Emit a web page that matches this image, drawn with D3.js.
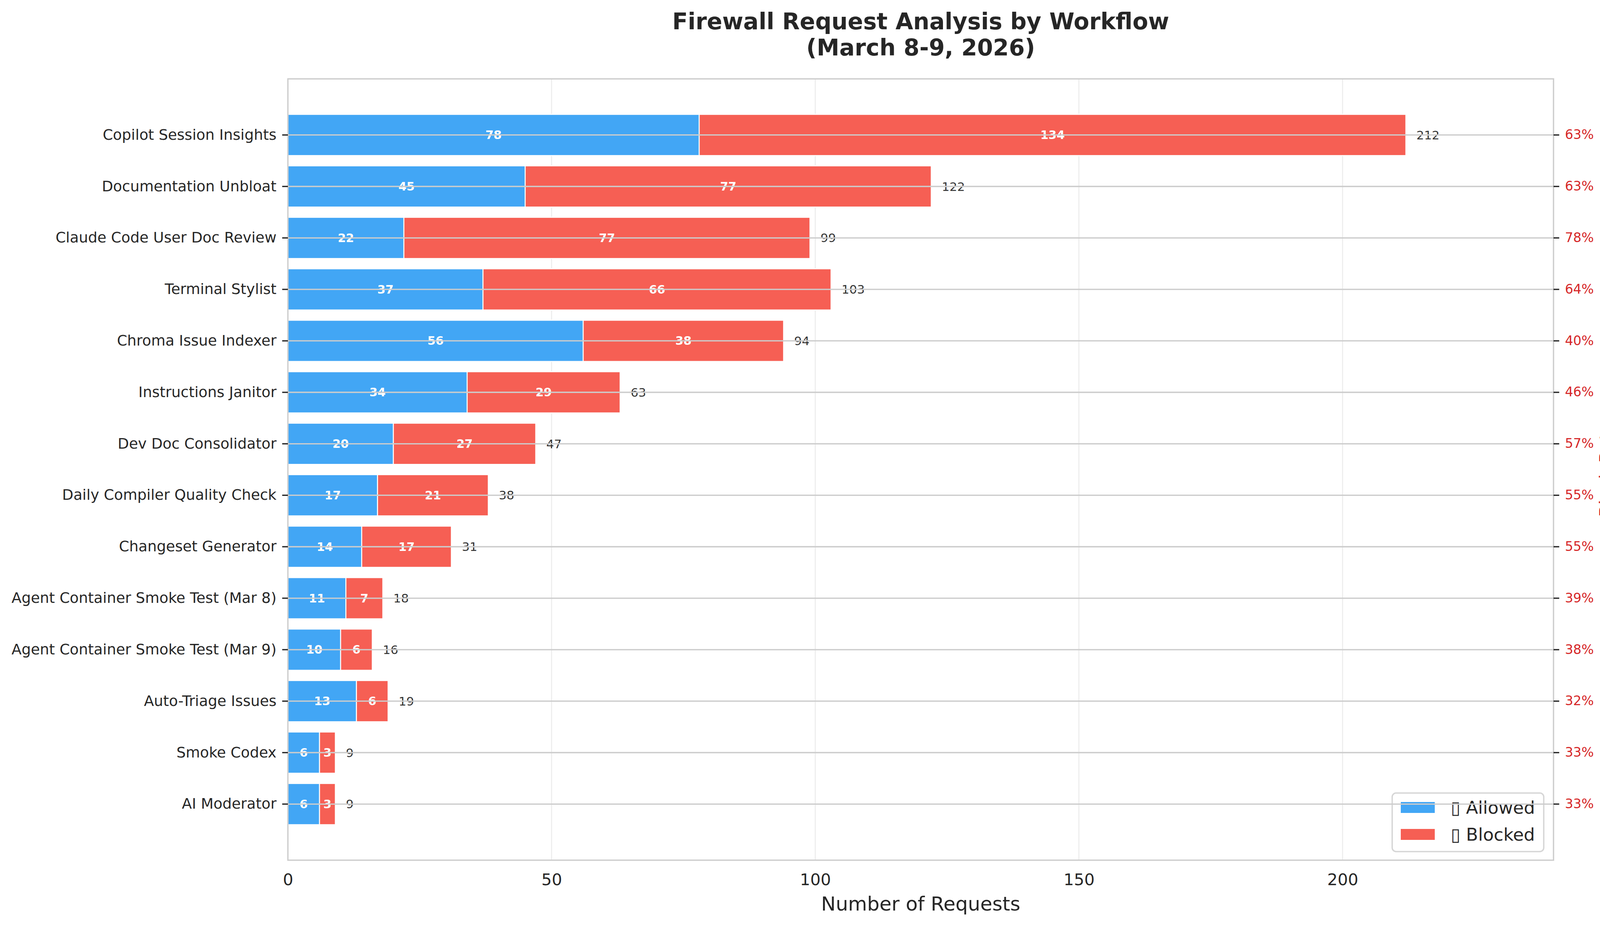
<!DOCTYPE html>
<html>
<head>
<meta charset="utf-8">
<script src="https://cdn.jsdelivr.net/npm/d3@7"></script>
<style>
  body { margin: 0; background: #fff; overflow: hidden; }
  svg { display: block; font-family: "DejaVu Sans", sans-serif; }
</style>
</head>
<body>
<div id="graphic"></div>
<script>
// chart data, top to bottom
var workflows = ["Copilot Session Insights", "Documentation Unbloat", "Claude Code User Doc Review",
  "Terminal Stylist", "Chroma Issue Indexer", "Instructions Janitor", "Dev Doc Consolidator",
  "Daily Compiler Quality Check", "Changeset Generator", "Agent Container Smoke Test (Mar 8)",
  "Agent Container Smoke Test (Mar 9)", "Auto-Triage Issues", "Smoke Codex", "AI Moderator"];
var allowed = [78, 45, 22, 37, 56, 34, 20, 17, 14, 11, 10, 13, 6, 6];
var blocked = [134, 77, 77, 66, 38, 29, 27, 21, 17, 7, 6, 6, 3, 3];
var xTicks = [0, 50, 100, 150, 200];
var legendLabels = ["\u25AF Allowed", "\u25AF Blocked"];

var blue = "#42a6f5", red = "#f65f54", pctRed = "#d62728", txt = "#262626";

var W = 4170, H = 2369;
var margin = {left: 737, top: 202, right: 193, bottom: 166};
var width = W - margin.left - margin.right;
var height = H - margin.top - margin.bottom;

var rows = workflows.map(function(d, i) {
  var tot = allowed[i] + blocked[i];
  return {name: d, allowed: allowed[i], blocked: blocked[i], total: tot, rate: Math.round(blocked[i] / tot * 100)};
});

var svg = d3.select("#graphic").append("svg")
  .attr("width", W).attr("height", H);
svg.append("rect").attr("width", W).attr("height", H).attr("fill", "#fff");

var g = svg.append("g").attr("transform", "translate(" + margin.left + "," + margin.top + ")");

var x = d3.scaleLinear().domain([0, 240]).range([0, width]);
var y = d3.scaleBand().domain(workflows).range([0, height]).paddingInner(0.2).paddingOuter(0.69);
var yc = function(d) { return y(d) + y.bandwidth() / 2; };

// vertical grid (behind bars)
g.selectAll("line.vgrid").data(xTicks.slice(1)).join("line")
  .attr("class", "vgrid")
  .attr("x1", d => x(d)).attr("x2", d => x(d))
  .attr("y1", 0).attr("y2", height)
  .attr("stroke", "#ebebeb").attr("stroke-width", 2.5);

// stacked bars
var bars = g.selectAll("g.row").data(rows).join("g").attr("class", "row");

bars.append("rect")
  .attr("x", x(0)).attr("y", d => y(d.name))
  .attr("width", d => x(d.allowed) - x(0)).attr("height", y.bandwidth())
  .attr("fill", blue).attr("stroke", "#fff").attr("stroke-width", 2.5);

bars.append("rect")
  .attr("x", d => x(d.allowed)).attr("y", d => y(d.name))
  .attr("width", d => x(d.blocked) - x(0)).attr("height", y.bandwidth())
  .attr("fill", red).attr("stroke", "#fff").attr("stroke-width", 2.5);

// labels inside segments
bars.append("text")
  .attr("x", d => x(d.allowed / 2)).attr("y", d => yc(d.name))
  .attr("text-anchor", "middle").attr("dominant-baseline", "central")
  .attr("fill", "#fff").attr("font-weight", "bold").attr("font-size", 30)
  .text(d => d.allowed);

bars.append("text")
  .attr("x", d => x(d.allowed + d.blocked / 2)).attr("y", d => yc(d.name))
  .attr("text-anchor", "middle").attr("dominant-baseline", "central")
  .attr("fill", "#fff").attr("font-weight", "bold").attr("font-size", 30)
  .text(d => d.blocked);

// totals
bars.append("text")
  .attr("x", d => x(d.total + 2)).attr("y", d => yc(d.name))
  .attr("dominant-baseline", "central")
  .attr("fill", "#333").attr("font-size", 31)
  .text(d => d.total);

// legend
var lg = g.append("g").attr("transform", "translate(" + (3564 - margin.left) + "," + (2031 - margin.top) + ")");
lg.append("rect").attr("width", 388).attr("height", 150).attr("rx", 10)
  .attr("fill", "#fff").attr("fill-opacity", 0.8)
  .attr("stroke", "#d6d6d6").attr("stroke-width", 3.5);
var li = lg.selectAll("g.item").data(d3.zip(legendLabels, [blue, red])).join("g")
  .attr("class", "item")
  .attr("transform", (d, i) => "translate(0," + (37 + i * 69) + ")");
li.append("rect").attr("x", 21).attr("y", -15).attr("width", 89).attr("height", 30)
  .attr("fill", d => d[1]).attr("stroke", "#fff").attr("stroke-width", 2);
li.append("text").attr("x", 150).attr("y", 0).attr("dominant-baseline", "central")
  .attr("font-size", 45).attr("fill", txt).text(d => d[0]);

// horizontal grid from twin axis (drawn on top)
g.selectAll("line.hgrid").data(workflows).join("line")
  .attr("class", "hgrid")
  .attr("x1", 0).attr("x2", width)
  .attr("y1", d => yc(d)).attr("y2", d => yc(d))
  .attr("stroke", "#cccccc").attr("stroke-width", 3.3);

// spines
g.append("rect").attr("width", width).attr("height", height)
  .attr("fill", "none").attr("stroke", "#cccccc").attr("stroke-width", 3.3);

// x axis
var xAxis = g.append("g").attr("transform", "translate(0," + height + ")")
  .call(d3.axisBottom(x).tickValues(xTicks).tickSize(0).tickPadding(0).tickFormat(d3.format("d")));
xAxis.select(".domain").remove();
xAxis.selectAll("text").attr("y", 64).attr("dy", null)
  .attr("font-size", 41.7).attr("fill", txt).attr("font-family", "DejaVu Sans");

// y axis left
var yAxis = g.append("g")
  .call(d3.axisLeft(y).tickSize(14.6).tickPadding(14.6));
yAxis.select(".domain").remove();
yAxis.selectAll("line").attr("stroke", txt).attr("stroke-width", 3.3);
yAxis.selectAll("text").attr("font-size", 37.5).attr("fill", txt).attr("font-family", "DejaVu Sans");

// y axis right (block rate)
var rateByName = {};
rows.forEach(function(d) { rateByName[d.name] = d.rate + "%"; });
var yRight = g.append("g").attr("transform", "translate(" + width + ",0)")
  .call(d3.axisRight(y).tickSize(14.6).tickPadding(14.6).tickFormat(d => rateByName[d]));
yRight.select(".domain").remove();
yRight.selectAll("line").attr("stroke", txt).attr("stroke-width", 3.3);
yRight.selectAll("text").attr("font-size", 33.3).attr("fill", pctRed).attr("font-family", "DejaVu Sans");

// axis titles
g.append("text")
  .attr("x", width / 2).attr("y", 2332 - margin.top)
  .attr("text-anchor", "middle").attr("font-size", 50).attr("fill", txt)
  .text("Number of Requests");

g.append("g")
  .attr("transform", "translate(" + (4128 - margin.left) + "," + (height / 2) + ")")
  .append("text")
  .attr("transform", "rotate(-90)")
  .attr("text-anchor", "middle").attr("font-size", 45.8).attr("fill", pctRed)
  .text("Block Rate");

// title
var title = svg.append("text")
  .attr("x", margin.left + width / 2).attr("text-anchor", "middle")
  .attr("font-size", 58.3).attr("font-weight", "bold").attr("fill", txt);
title.append("tspan").attr("x", margin.left + width / 2).attr("y", 75).text("Firewall Request Analysis by Workflow");
title.append("tspan").attr("x", margin.left + width / 2).attr("y", 142).text("(March 8-9, 2026)");
</script>
</body>
</html>
